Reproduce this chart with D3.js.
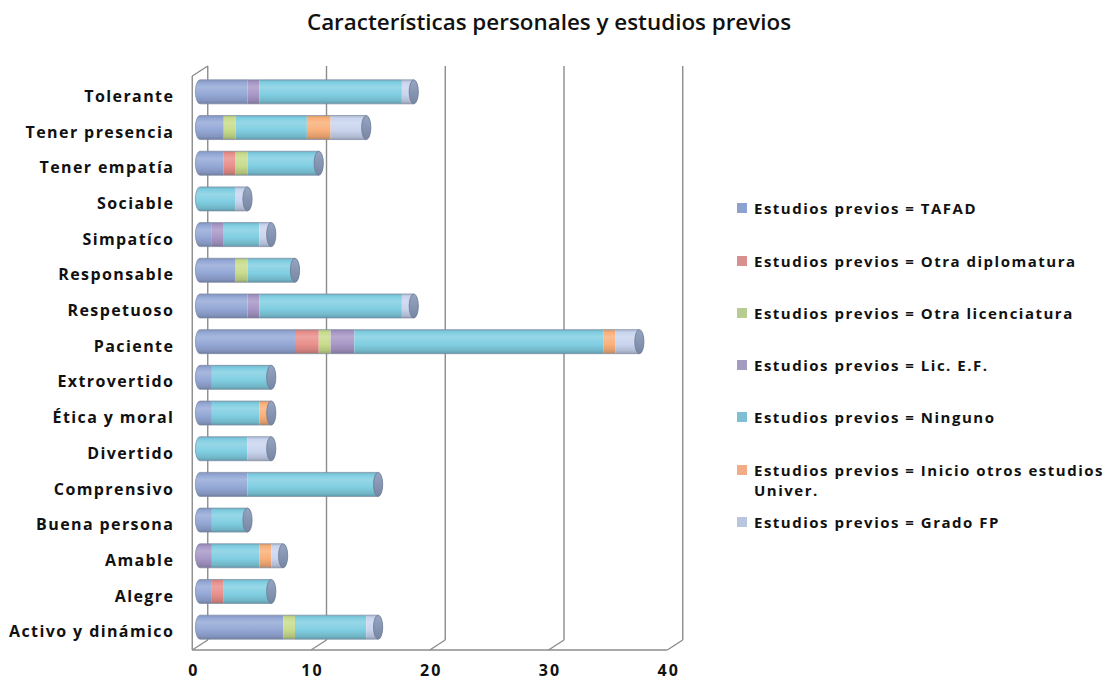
<!DOCTYPE html>
<html>
<head>
<meta charset="utf-8">
<script src="https://cdn.jsdelivr.net/npm/d3@7"></script>
<style>
  html, body { margin: 0; padding: 0; background: #fff; }
  svg { display: block; }
  text { font-family: "Open Sans", Lato, sans-serif; }
</style>
</head>
<body>
<svg id="chart" width="1110" height="684"></svg>
<script>
// Categories, top to bottom as shown
const categories = [
  "Tolerante", "Tener presencia", "Tener empatía", "Sociable", "Simpatíco",
  "Responsable", "Respetuoso", "Paciente", "Extrovertido", "Ética y moral",
  "Divertido", "Comprensivo", "Buena persona", "Amable", "Alegre", "Activo y dinámico"
];

const seriesNames = [
  "Estudios previos = TAFAD",
  "Estudios previos = Otra diplomatura",
  "Estudios previos = Otra licenciatura",
  "Estudios previos = Lic. E.F.",
  "Estudios previos = Ninguno",
  "Estudios previos = Inicio otros estudios Univer.",
  "Estudios previos = Grado FP"
];

// Counts per series, in the same order as categories
const tafad        = [4, 2, 2, 0, 1, 3, 4, 8, 1, 1, 0, 4, 1, 0, 1, 7];
const diplomatura  = [0, 0, 1, 0, 0, 0, 0, 2, 0, 0, 0, 0, 0, 0, 1, 0];
const licenciatura = [0, 1, 1, 0, 0, 1, 0, 1, 0, 0, 0, 0, 0, 0, 0, 1];
const licEF        = [1, 0, 0, 0, 1, 0, 1, 2, 0, 0, 0, 0, 0, 1, 0, 0];
const ninguno      = [12, 6, 6, 3, 3, 4, 12, 21, 5, 4, 4, 11, 3, 4, 4, 6];
const inicioUniv   = [0, 2, 0, 0, 0, 0, 0, 1, 0, 1, 0, 0, 0, 1, 0, 0];
const gradoFP      = [1, 3, 0, 1, 1, 0, 1, 2, 0, 0, 2, 0, 0, 1, 0, 1];

const xTicks = [0, 10, 20, 30, 40];

const seriesValues = [tafad, diplomatura, licenciatura, licEF, ninguno, inicioUniv, gradoFP];
const barColors    = ["#94a8d6", "#e88f8b", "#c8dc8c", "#a797c6", "#80cee2", "#f9b07a", "#c9d4ee"];
const legendColors = ["#8ea2cf", "#d88f8d", "#b7cc91", "#a39bc0", "#7ebfd4", "#f2ad88", "#b9c6df"];

const svg = d3.select("#chart");

// 3D box geometry: bars sit halfway between the front and back planes
const depthX = 7.75, depthY = 5;
const x = d3.scaleLinear().domain([0, 40]).range([200, 675]);
const xFront = v => x(v) - depthX;
const xBack  = v => x(v) + depthX;
const yFront = d3.scaleBand().domain(categories).range([79, 650]).paddingInner(0).paddingOuter(0);
const floorFront = 650, floorBack = 640, wallTop = 66;

// Gradients for cylinder shading
const defs = svg.append("defs");
function shade(c, k) { return d3.color(c).darker(k).formatHex(); }
function lift(c, k)  { return d3.interpolateRgb(c, "#ffffff")(k); }
barColors.forEach((c, i) => {
  const g = defs.append("linearGradient").attr("id", "cyl" + i)
    .attr("x1", 0).attr("y1", 0).attr("x2", 0).attr("y2", 1);
  g.append("stop").attr("offset", "0%").attr("stop-color", shade(c, 0.35));
  g.append("stop").attr("offset", "12%").attr("stop-color", c);
  g.append("stop").attr("offset", "30%").attr("stop-color", lift(c, 0.18));
  g.append("stop").attr("offset", "62%").attr("stop-color", c);
  g.append("stop").attr("offset", "88%").attr("stop-color", shade(c, 0.35));
  g.append("stop").attr("offset", "100%").attr("stop-color", shade(c, 0.8));
});
const capGrad = defs.append("linearGradient").attr("id", "cap")
  .attr("x1", 0).attr("y1", 0).attr("x2", 0).attr("y2", 1);
capGrad.append("stop").attr("offset", "0%").attr("stop-color", "#95a5c2");
capGrad.append("stop").attr("offset", "100%").attr("stop-color", "#7786a3");

// Title
svg.append("text")
  .attr("x", 549).attr("y", 30)
  .attr("text-anchor", "middle")
  .attr("font-size", 22.4).attr("font-weight", 600)
  .attr("fill", "#111")
  .text("Características personales y estudios previos");

// Walls and gridlines
const grid = svg.append("g").attr("stroke", "#8c8c8c").attr("stroke-width", 1.4).attr("fill", "none");
// left wall outline
grid.append("line").attr("x1", xFront(0)).attr("y1", 76).attr("x2", xFront(0)).attr("y2", floorFront);
grid.append("line").attr("x1", xBack(0)).attr("y1", wallTop).attr("x2", xBack(0)).attr("y2", floorBack);
grid.append("line").attr("x1", xFront(0)).attr("y1", 76).attr("x2", xBack(0)).attr("y2", wallTop);
// back wall gridlines
grid.selectAll("line.v").data(xTicks.slice(1)).join("line").attr("class", "v")
  .attr("x1", d => xBack(d)).attr("x2", d => xBack(d))
  .attr("y1", wallTop).attr("y2", floorBack);
// floor
grid.append("line").attr("x1", xFront(0)).attr("x2", xFront(40)).attr("y1", floorFront).attr("y2", floorFront);
grid.selectAll("line.f").data(xTicks).join("line").attr("class", "f")
  .attr("x1", d => xFront(d)).attr("y1", floorFront)
  .attr("x2", d => xBack(d)).attr("y2", floorBack);

// Stacked cylinders
const stackData = categories.map((c, i) => {
  const o = { cat: c };
  seriesValues.forEach((s, j) => o["s" + j] = s[i]);
  return o;
});
const stack = d3.stack().keys(seriesNames.map((_, j) => "s" + j))(stackData);

const rx = 4.6, ry = 12;
const barsG = svg.append("g");
categories.forEach((cat, i) => {
  const cy = yFront(cat) + yFront.bandwidth() / 2 - depthY;
  const total = d3.sum(seriesValues, s => s[i]);
  const g = barsG.append("g");
  stack.forEach((layer, j) => {
    const [a, b] = layer[i];
    if (b - a <= 0) return;
    const x0 = x(a), x1 = x(b);
    let d;
    if (a === 0) {
      d = `M${x1},${cy - ry} L${x0},${cy - ry} A${rx},${ry} 0 0 0 ${x0},${cy + ry} L${x1},${cy + ry} Z`;
    } else {
      d = `M${x0},${cy - ry} L${x1},${cy - ry} L${x1},${cy + ry} L${x0},${cy + ry} Z`;
    }
    g.append("path").attr("d", d).attr("fill", `url(#cyl${j})`);
  });
  // outline of the whole cylinder
  const xs = x(0), xe = x(total);
  g.append("path")
    .attr("d", `M${xe},${cy - ry} L${xs},${cy - ry} A${rx},${ry} 0 0 0 ${xs},${cy + ry} L${xe},${cy + ry}`)
    .attr("fill", "none").attr("stroke", "#7d8aa3").attr("stroke-width", 0.9).attr("stroke-opacity", 0.8);
  // end cap
  g.append("ellipse").attr("cx", xe).attr("cy", cy).attr("rx", rx).attr("ry", ry)
    .attr("fill", "url(#cap)").attr("stroke", "#6c7a94").attr("stroke-width", 0.8);
});

// Category labels
const yAxis = svg.append("g")
  .attr("transform", `translate(${xFront(0)},0)`)
  .call(d3.axisLeft(yFront).tickSize(0).tickPadding(18));
yAxis.select(".domain").remove();
yAxis.selectAll("text")
  .attr("font-family", "'Open Sans', Lato, sans-serif")
  .attr("font-size", 16).attr("font-weight", 700).attr("letter-spacing", 1.4).attr("fill", "#111");

// Value axis labels
const xAxisScale = d3.scaleLinear().domain([0, 40]).range([xFront(0), xFront(40)]);
const xAxis = svg.append("g")
  .attr("transform", `translate(1,${floorFront + 12})`)
  .call(d3.axisBottom(xAxisScale).tickValues(xTicks).tickSize(0).tickFormat(d3.format("d")));
xAxis.select(".domain").remove();
xAxis.selectAll("text")
  .attr("font-family", "'DejaVu Serif', serif")
  .attr("font-size", 16).attr("font-weight", 700).attr("letter-spacing", 2).attr("fill", "#111");

// Legend
const legendY = [208, 261, 313, 365, 417, 470, 522];
const legend = svg.append("g");
seriesNames.forEach((name, j) => {
  const g = legend.append("g").attr("transform", `translate(737,${legendY[j]})`);
  g.append("rect").attr("x", 0).attr("y", -5).attr("width", 10).attr("height", 10).attr("fill", legendColors[j]);
  const t = g.append("text").attr("x", 17).attr("y", 5.5)
    .attr("font-size", 15).attr("font-weight", 700).attr("letter-spacing", 1.5).attr("fill", "#111");
  if (name.endsWith("Univer.")) {
    t.append("tspan").attr("x", 17).text("Estudios previos = Inicio otros estudios");
    t.append("tspan").attr("x", 17).attr("dy", 20).text("Univer.");
  } else {
    t.text(name);
  }
});
</script>
</body>
</html>
